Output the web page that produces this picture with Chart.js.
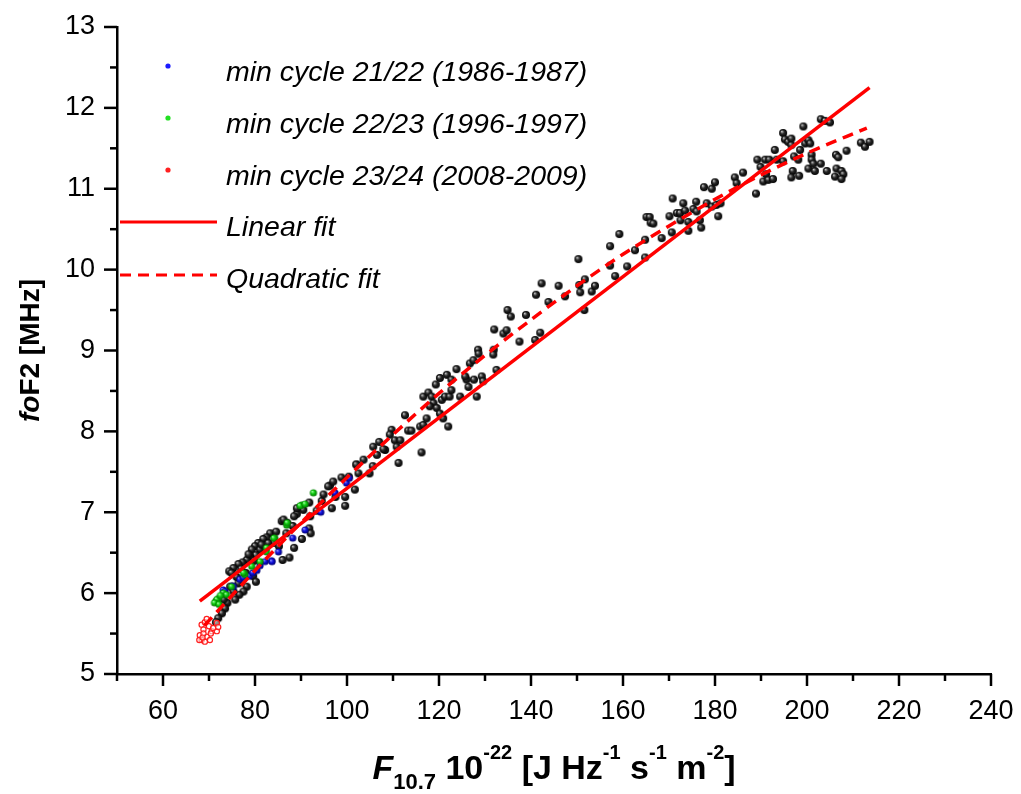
<!DOCTYPE html>
<html>
<head>
<meta charset="utf-8">
<script src="https://cdn.jsdelivr.net/npm/chart.js@4.4.0/dist/chart.umd.min.js"></script>
<style>
  html, body { margin: 0; padding: 0; background: #fff; }
  #wrap { width: 1021px; height: 794px; position: relative; }
</style>
</head>
<body>
<div id="wrap"><canvas id="chart"></canvas></div>
<script>
// axis ticks
const xTickLabels = ['60', '80', '100', '120', '140', '160', '180', '200', '220', '240'];
const yTickLabels = ['5', '6', '7', '8', '9', '10', '11', '12', '13'];

// legend texts
const seriesNames = [
    'min cycle 21/22 (1986-1987)',
    'min cycle 22/23 (1996-1997)',
    'min cycle 23/24 (2008-2009)',
    'Linear fit',
    'Quadratic fit'
];

// [F10.7, foF2]
const allMonths = [
    [98.8,7.43],[96.3,7.33],[97.5,7.19],[99.6,7.08],[96.7,7.05],[91.8,7.12],[90.5,7.03],[89.1,6.98],
    [88.5,6.95],[87.0,6.87],[85.8,6.89],[88.2,6.83],[91.8,6.80],[92.1,6.74],[90.2,6.67],[88.5,6.56],
    [87.5,6.44],[86.0,6.41],[83.3,6.74],[82.5,6.69],[81.8,6.67],[80.7,6.62],[80.0,6.58],[79.3,6.54],
    [81.1,6.54],[80.2,6.47],[78.9,6.45],[78.2,6.41],[77.3,6.38],[76.4,6.36],[75.3,6.31],[74.4,6.27],
    [74.9,6.25],[79.6,6.21],[80.2,6.14],[78.2,6.08],[77.5,6.02],[76.6,5.98],[75.7,5.92],[74.6,6.08],
    [75.3,6.02],[74.0,5.88],[73.5,5.81],[72.8,5.75],[72.0,5.69],[71.5,5.64],[76.4,6.12],[86.2,6.91],
    [102.1,7.59],[95.9,7.32],[94.5,7.14],[99.6,7.19],[101.7,7.28],[92.0,6.95],[84.0,6.62],[89.1,7.05],
    [102.0,7.59],[102.5,7.48],[104.9,7.48],[105.6,7.57],[105.7,7.81],[107.0,7.87],[106.5,7.71],[108.3,7.77],
    [109.7,8.02],[109.3,7.96],[110.4,7.89],[111.6,7.89],[111.2,7.61],[112.6,8.20],[113.3,8.01],[114.0,8.01],
    [115.9,8.06],[116.6,8.08],[116.2,7.74],[117.3,8.16],[116.6,8.43],[117.7,8.48],[118.4,8.43],[118.8,8.35],
    [118.0,8.31],[119.5,8.29],[119.3,8.58],[120.2,8.66],[121.7,8.70],[120.6,8.39],[121.3,8.43],[122.3,8.43],
    [122.7,8.51],[122.7,8.64],[123.8,8.77],[122.0,8.06],[120.9,8.16],[120.2,8.22],[124.6,8.43],[126.0,8.64],
    [126.4,8.55],[125.7,8.68],[126.7,8.84],[127.5,8.88],[127.6,8.64],[128.2,8.43],[128.5,9.01],[128.6,8.96],
    [129.3,8.68],[129.6,8.62],[131.9,9.01],[131.8,8.95],[132.5,8.76],[132.0,9.26],[134.0,9.21],[134.7,9.25],
    [134.9,9.50],[135.6,9.42],[137.5,9.11],[138.9,9.44],[142.0,9.22],[140.9,9.13],[103.6,7.65],[107.9,7.78],
    [110.8,7.81],
    [141.1,9.69],[142.3,9.83],[143.8,9.60],[146.0,9.80],[147.4,9.67],[150.3,10.13],[150.5,9.81],[150.7,9.72],
    [151.7,9.88],[153.2,9.73],[153.9,9.80],[151.6,9.50],[157.2,10.29],[157.2,10.05],[158.3,9.92],[159.2,10.44],
    [160.9,10.04],[162.6,10.24],[164.8,10.37],[164.8,10.15],[165.1,10.65],[165.8,10.65],[166.0,10.58],[166.6,10.57],
    [168.4,10.39],[170.1,10.66],[170.6,10.46],[170.8,10.88],[171.7,10.70],[172.4,10.70],[173.1,10.82],[173.5,10.73],
    [172.5,10.61],[174.2,10.59],[174.2,10.48],[175.3,10.75],[175.9,10.84],[176.0,10.72],[176.7,10.61],[177.0,10.52],
    [177.6,11.02],[179.3,11.00],[180.0,11.08],[178.2,10.82],[179.3,10.78],[180.3,10.80],[180.7,10.66],[181.2,10.82],
    [184.3,11.14],[184.7,11.07],[186.1,11.20],
    [188.9,10.94],[189.2,11.36],[189.9,11.27],[190.5,11.09],[190.9,11.36],[191.1,11.18],[191.6,11.11],[191.8,11.36],
    [192.6,11.12],[193.0,11.48],[193.4,11.36],[194.8,11.69],[195.2,11.61],[194.8,11.34],[195.9,11.58],[196.6,11.62],
    [196.6,11.54],[196.9,11.22],[196.6,11.14],[197.2,11.40],[198.1,11.36],[198.3,11.16],[198.5,11.48],[199.2,11.77],
    [199.6,11.56],[200.3,11.60],[200.7,11.56],[201.0,11.42],[201.0,11.36],[200.3,11.25],[201.4,11.31],[201.7,11.22],
    [203.0,11.31],[203.0,11.86],[203.9,11.84],[205.0,11.82],[204.3,11.22],[206.3,11.42],[206.8,11.39],[206.4,11.25],
    [207.5,11.22],[207.9,11.18],[206.1,11.15],[207.5,11.12],[208.6,11.47],[211.7,11.57],[212.6,11.52],[213.6,11.58],
    [77.0,6.30],[78.6,6.48],[79.8,6.40],[81.4,6.60],[82.9,6.62],[84.6,6.76],[85.2,6.58],[86.8,6.74],
    [93.4,7.02],[94.9,7.22],[97.0,7.38],[100.4,7.44],[73.2,5.92],[76.0,6.20],[78.0,6.25]
];

const cycle2122 = [
    [99.9,7.36],[94.3,7.00],[90.9,6.78],[88.2,6.68],[85.1,6.51],[83.6,6.40],[82.2,6.39],[81.1,6.34],
    [80.4,6.28],[78.8,6.21],[76.7,6.17],[75.1,6.09],[73.1,6.04],[97.4,7.24],[83.7,6.39],[75.3,6.08],
    [73.5,6.02],[100.5,7.42],[77.5,6.19],[79.5,6.25]
];

const cycle2223 = [
    [92.7,7.24],[90.2,7.09],[86.9,6.84],[84.3,6.68],[82.5,6.51],[81.1,6.39],[79.3,6.33],[77.8,6.23],
    [74.9,6.08],[73.1,6.00],[72.0,5.93],[71.5,5.90],[73.8,5.98],[89.8,7.08],[87.0,6.87],[84.1,6.68],
    [82.5,6.56],[77.5,6.25],[71.7,5.92],[72.5,5.97],[71.2,5.88],[72.2,5.86],[90.9,7.10]
];

const cycle2324 = [
    [68.4,5.61],[69.1,5.64],[68.8,5.55],[68.0,5.48],[68.4,5.42],[69.5,5.46],[70.6,5.53],[71.7,5.53],
    [70.0,5.59],[67.9,5.42],[69.1,5.40],[70.9,5.57],[70.2,5.42],[68.8,5.50],[71.7,5.63],[69.5,5.68],
    [68.6,5.45],[70.4,5.50],[72.0,5.58]
];

const linearFit = [[68.0,5.90],[213.6,12.25]];

const quadraticFit = [
    [69,5.60],[75,5.97],[80,6.28],[90,6.87],[100,7.43],[110,7.96],[120,8.47],[130,8.94],
    [140,9.38],[150,9.80],[160,10.19],[170,10.54],[180,10.87],[190,11.17],[200,11.44],[213,11.75]
];

const FONT = '"Liberation Sans", Arial, sans-serif';
const toXY = arr => arr.map(p => ({ x: p[0], y: p[1] }));

function ball(mid, hi, edge, r) {
    const c = document.createElement('canvas');
    const s = Math.ceil(r * 2 + 2);
    c.width = c.height = s;
    const g = c.getContext('2d');
    const grad = g.createRadialGradient(s / 2 - r * 0.35, s / 2 - r * 0.4, 0.2, s / 2, s / 2, r);
    grad.addColorStop(0, hi);
    grad.addColorStop(0.45, mid);
    grad.addColorStop(1, edge);
    g.fillStyle = grad;
    g.beginPath();
    g.arc(s / 2, s / 2, r, 0, Math.PI * 2);
    g.fill();
    return c;
}

const blackBall = ball('#2a2a2a', '#c8c8c8', '#000', 4);
const blueBall = ball('#1010e0', '#9a9aff', '#000070', 3.6);
const greenBall = ball('#10d010', '#a8ffa8', '#007000', 3.6);

function drawRuns(ctx, runs, x, y) {
    let w = 0;
    runs.forEach(r => { ctx.font = r.f; w += ctx.measureText(r.t).width; });
    let cx = x - w / 2;
    runs.forEach(r => {
        ctx.font = r.f;
        ctx.fillText(r.t, cx, y + (r.dy || 0));
        cx += ctx.measureText(r.t).width;
    });
}

const decorations = {
    id: 'decorations',
    afterDraw(chart) {
        const { ctx, chartArea, scales: { x, y } } = chart;
        ctx.save();
        ctx.strokeStyle = '#000';
        ctx.lineWidth = 2.5;
        // ticks, outward, major and minor
        x.ticks.forEach(t => {
            const px = x.getPixelForValue(t.value);
            const len = xTickLabels.includes(String(t.value)) ? 12 : 7;
            ctx.beginPath();
            ctx.moveTo(px, chartArea.bottom);
            ctx.lineTo(px, chartArea.bottom + len);
            ctx.stroke();
        });
        y.ticks.forEach(t => {
            const py = y.getPixelForValue(t.value);
            const len = Math.abs(t.value - Math.round(t.value)) < 1e-6 ? 13 : 7;
            ctx.beginPath();
            ctx.moveTo(chartArea.left, py);
            ctx.lineTo(chartArea.left - len, py);
            ctx.stroke();
        });

        // axis titles
        ctx.fillStyle = '#000';
        ctx.textBaseline = 'alphabetic';
        ctx.textAlign = 'left';
        const big = 'bold 34px ' + FONT;
        const sub = 'bold 22px ' + FONT;
        const sup = 'bold 20px ' + FONT;
        drawRuns(ctx, [
            { t: 'F', f: 'italic ' + big },
            { t: '10.7', f: sub, dy: 10 },
            { t: ' 10', f: big },
            { t: '-22', f: sup, dy: -20 },
            { t: ' [J Hz', f: big },
            { t: '-1', f: sup, dy: -20 },
            { t: ' s', f: big },
            { t: '-1', f: sup, dy: -20 },
            { t: ' m', f: big },
            { t: '-2', f: sup, dy: -20 },
            { t: ']', f: big }
        ], (chartArea.left + chartArea.right) / 2, 779);

        ctx.save();
        ctx.translate(39, (chartArea.top + chartArea.bottom) / 2);
        ctx.rotate(-Math.PI / 2);
        drawRuns(ctx, [
            { t: 'fo', f: 'italic bold 28px ' + FONT },
            { t: 'F2 [MHz]', f: 'bold 28px ' + FONT }
        ], 0, 0);
        ctx.restore();

        // legend
        const rows = [81, 133, 185, 236, 288];
        const dotColors = ['#1a1aff', '#22e022', '#ff2020'];
        dotColors.forEach((c, i) => {
            ctx.fillStyle = c;
            ctx.beginPath();
            ctx.arc(168, rows[i] - 15, 2.6, 0, Math.PI * 2);
            ctx.fill();
        });
        ctx.strokeStyle = '#ff0000';
        ctx.lineWidth = 3;
        ctx.beginPath();
        ctx.moveTo(120, rows[3] - 14);
        ctx.lineTo(217, rows[3] - 14);
        ctx.stroke();
        ctx.setLineDash([11, 7]);
        ctx.beginPath();
        ctx.moveTo(120, rows[4] - 13);
        ctx.lineTo(217, rows[4] - 13);
        ctx.stroke();
        ctx.setLineDash([]);

        ctx.fillStyle = '#000';
        ctx.font = 'italic 28.5px ' + FONT;
        seriesNames.forEach((s, i) => ctx.fillText(s, 226, rows[i]));
        ctx.restore();
    }
};

new Chart(document.getElementById('chart'), {
    type: 'scatter',
    data: {
        datasets: [
            {
                type: 'line', data: toXY(linearFit), showLine: true, order: 0,
                borderColor: '#ff0000', borderWidth: 3.5, pointRadius: 0, fill: false
            },
            {
                type: 'line', data: toXY(quadraticFit), showLine: true, order: 0,
                borderColor: '#ff0000', borderWidth: 3.5, borderDash: [11, 7],
                cubicInterpolationMode: 'monotone', pointRadius: 0, fill: false
            },
            {
                data: toXY(cycle2324), order: 1, pointStyle: 'circle', pointRadius: 2.6,
                borderColor: '#ff2020', borderWidth: 1.2, backgroundColor: 'rgba(255,255,255,0.5)'
            },
            { data: toXY(cycle2223), order: 2, pointStyle: greenBall },
            { data: toXY(cycle2122), order: 3, pointStyle: blueBall },
            { data: toXY(allMonths), order: 4, pointStyle: blackBall }
        ]
    },
    options: {
        responsive: true,
        maintainAspectRatio: false,
        animation: false,
        layout: { padding: { top: 27, right: 30, bottom: 0, left: 0 } },
        plugins: { legend: { display: false }, tooltip: { enabled: false } },
        scales: {
            x: {
                type: 'linear', position: 'bottom', min: 50, max: 240,
                border: { display: true, color: '#000', width: 2.5 },
                grid: { display: false },
                ticks: {
                    stepSize: 10, autoSkip: false, maxRotation: 0, padding: 13, color: '#000',
                    font: { size: 27, family: FONT },
                    callback: v => xTickLabels.includes(String(v)) ? String(v) : ''
                },
                afterFit: s => { s.height = 120; s.paddingLeft = 0; s.paddingRight = 0; }
            },
            y: {
                type: 'linear', min: 5, max: 13,
                border: { display: true, color: '#000', width: 2.5 },
                grid: { display: false },
                ticks: {
                    stepSize: 0.5, autoSkip: false, padding: 14, color: '#000',
                    font: { size: 27, family: FONT },
                    callback: v => yTickLabels.includes(String(v)) ? String(v) : ''
                },
                afterFit: s => { s.width = 117; s.paddingTop = 0; s.paddingBottom = 0; }
            }
        }
    },
    plugins: [decorations]
});
</script>
</body>
</html>
